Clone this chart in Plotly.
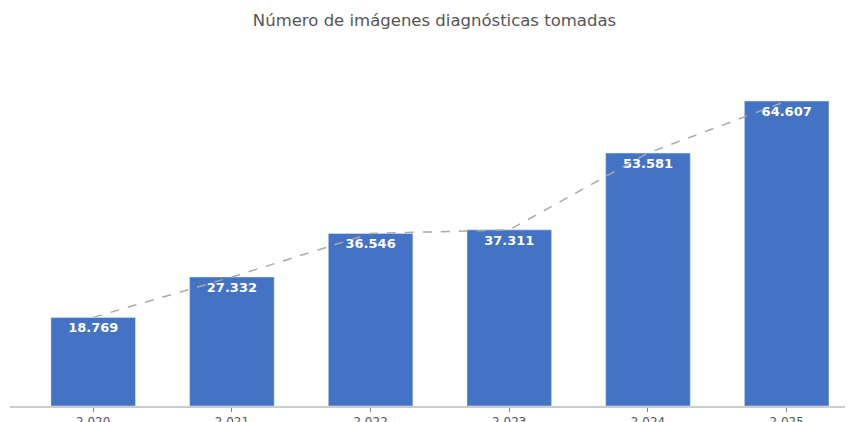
import plotly.graph_objects as go

years = ["2020", "2021", "2022", "2023", "2024", "2025"]
year_labels = ["2 020", "2 021", "2 022", "2 023", "2 024", "2 025"]
values = [18769, 27332, 36546, 37311, 53581, 64607]

fig = go.Figure()
fig.add_trace(go.Bar(
    x=years, y=values,
    marker_color="#4472C4",
    texttemplate="%{y:,}",
    textposition="inside",
    insidetextanchor="end",
    textfont=dict(color="white", size=13, family="DejaVu Sans", weight="bold"),
    showlegend=False,
))
fig.add_trace(go.Scatter(
    x=years, y=values, mode="lines",
    line=dict(color="#aaaaaa", width=1.5, dash="dash"),
    showlegend=False, hoverinfo="skip",
))
fig.update_layout(
    width=853, height=422,
    separators=",.",
    bargap=0.39,
    plot_bgcolor="white", paper_bgcolor="white",
    margin=dict(l=2, r=5, t=77, b=24, autoexpand=False),
    title=dict(text="Número de imágenes diagnósticas tomadas", x=0.5, xanchor="center",
               y=0.97, yanchor="middle",
               font=dict(family="DejaVu Sans", size=16.5, color="#555555")),
    font=dict(family="DejaVu Sans", color="#555555"),
    xaxis=dict(type="category", range=[-0.6, 5.5], tickvals=years, ticktext=year_labels,
               showline=True, linecolor="#cccccc", linewidth=1.5,
               ticks="outside", ticklen=4, tickcolor="#888888", automargin=False,
               tickfont=dict(size=12, color="#555555"), showgrid=False),
    yaxis=dict(range=[0, 68000], visible=False, showgrid=False, zeroline=False),
)
fig.write_html("out.html")
